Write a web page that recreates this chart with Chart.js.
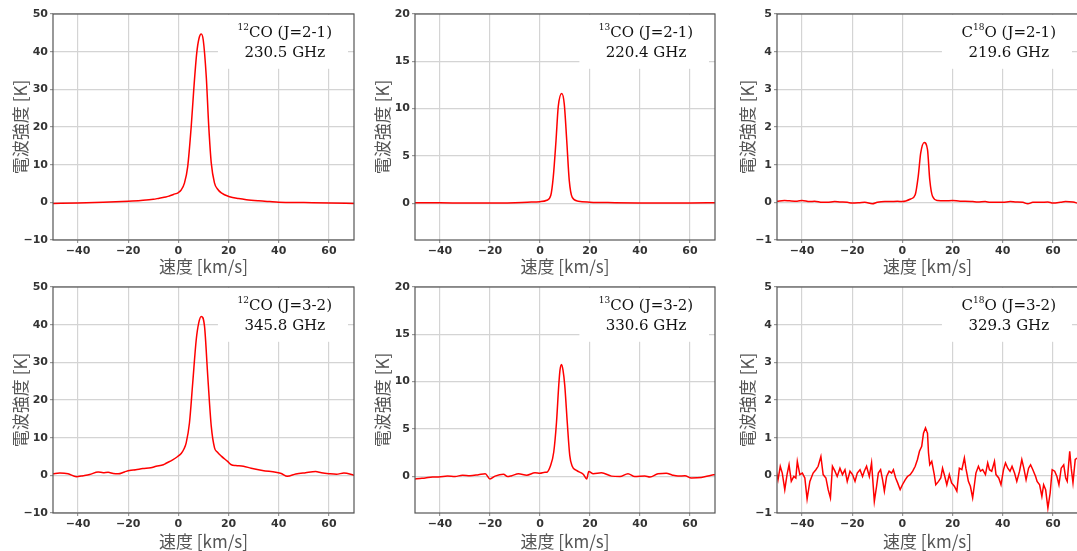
<!DOCTYPE html>
<html>
<head>
<meta charset="utf-8">
<title>CO spectra</title>
<style>
  html, body { margin: 0; padding: 0; background: #fff; width: 1077px; height: 551px; overflow: hidden; }
  .cell { position: absolute; }
</style>
</head>
<body>
<div class="cell" style="left:0px;top:0px"><canvas id="c1" width="356" height="280"></canvas></div>
<div class="cell" style="left:360px;top:0px"><canvas id="c2" width="357" height="280"></canvas></div>
<div class="cell" style="left:720px;top:0px"><canvas id="c3" width="360" height="280"></canvas></div>
<div class="cell" style="left:0px;top:273px"><canvas id="c4" width="356" height="280"></canvas></div>
<div class="cell" style="left:360px;top:273px"><canvas id="c5" width="357" height="280"></canvas></div>
<div class="cell" style="left:720px;top:273px"><canvas id="c6" width="360" height="280"></canvas></div>

<script src="https://cdn.jsdelivr.net/npm/chart.js@4.4.1/dist/chart.umd.min.js"></script>
<script>
// velocity axis ticks (km/s)
const xTicks = [-40, -20, 0, 20, 40, 60];
const yTicks12 = [-10, 0, 10, 20, 30, 40, 50];
const yTicks13 = [0, 5, 10, 15, 20];
const yTicks18 = [-1, 0, 1, 2, 3, 4, 5];

// 12CO (J=2-1)
const co12_21_v = [-50, -40, -30, -20, -15, -10, -7.6, -5, -3.6, -2, 0, 1, 2.4, 3.7, 5.1, 6.1, 7.3, 8.2, 9.1, 9.9, 11.1, 12.1, 13.1, 14.4, 15.5, 17.1, 20.4, 24, 27.1, 32, 36.4, 40, 50, 60, 70];
const co12_21_T = [-0.3, -0.2, 0, 0.3, 0.5, 0.8, 1.1, 1.4, 1.7, 2.1, 2.6, 3.2, 5.1, 9.5, 20.1, 29.8, 39.6, 43.5, 44.7, 43.1, 33.4, 20.1, 10.4, 5.1, 3.6, 2.5, 1.5, 1.0, 0.7, 0.4, 0.2, 0.05, -0.05, -0.15, -0.3];

// 13CO (J=2-1)
const co13_21_v = [-50, -40, -30, -20, -10, -5, 0, 2.7, 4.3, 5.3, 6.4, 7.3, 8.7, 9.7, 10.7, 11.7, 12.9, 15.3, 20, 30, 40, 50, 60, 70];
const co13_21_T = [0.05, 0.03, 0.02, 0.0, 0.05, 0.1, 0.15, 0.3, 0.8, 2.75, 6.6, 10.2, 11.6, 10.5, 6.6, 2.4, 0.6, 0.2, 0.1, 0.05, 0.02, 0.0, 0.02, 0.05];

// C18O (J=2-1)
const c18o_21_v = [-50, -47, -45, -42, -40, -37, -35, -32, -30, -27, -25, -22, -20, -17, -15, -12, -10, -7, -5, -2, 0, 3.3, 5.1, 6.3, 7.3, 8.7, 10, 10.9, 12, 14, 17, 20, 23, 25, 28, 30, 33, 35, 38, 40, 43, 45, 48, 50, 52, 55, 58, 60, 63, 65, 68, 70];
const c18o_21_T = [0.03, 0.05, 0.04, 0.03, 0.05, 0.02, 0.03, 0.0, 0.0, 0.02, 0.01, 0.0, -0.02, -0.01, 0.0, -0.04, 0.0, 0.02, 0.02, 0.03, 0.02, 0.09, 0.2, 0.69, 1.31, 1.59, 1.4, 0.6, 0.16, 0.05, 0.04, 0.05, 0.03, 0.03, 0.02, 0.01, 0.02, 0.0, 0.0, 0.0, 0.02, 0.01, 0.0, -0.04, 0.0, 0.0, 0.01, -0.02, 0.0, 0.02, 0.01, -0.03];

// 12CO (J=3-2)
const co12_32_v = [-50, -47.3, -44, -40.7, -38, -35.4, -32, -30, -28, -26, -24, -21.5, -19.5, -17, -14.2, -11, -8.9, -6, -4.9, -2.3, -0.3, 1.1, 2.2, 3.1, 4.4, 5.7, 7.1, 8.1, 9.1, 10.4, 11.7, 13.1, 14.4, 15.5, 17.1, 19.6, 21.1, 22.9, 25.9, 29, 33.5, 38.8, 41, 43.4, 46.8, 50.7, 54.7, 57, 60, 63, 66, 70];
const co12_32_T = [0.4, 0.6, 0.4, -0.35, -0.1, 0.2, 0.9, 0.7, 0.8, 0.5, 0.4, 0.9, 1.3, 1.5, 1.8, 2.0, 2.4, 2.8, 3.2, 4.1, 5.0, 5.8, 7.0, 8.6, 13.9, 24.5, 36, 40.5, 42.2, 39.6, 26.3, 13, 7.3, 6.2, 5.1, 3.7, 2.8, 2.6, 2.4, 1.9, 1.3, 0.8, 0.5, -0.26, 0.35, 0.7, 1.0, 0.7, 0.45, 0.3, 0.6, 0.05];

// 13CO (J=3-2)
const co13_32_v = [-50, -48, -45.9, -43, -40.6, -37, -34, -31, -28, -24.6, -21.9, -20, -18, -14.6, -13, -11.3, -8.6, -5.3, -2, 0, 2, 2.6, 4.2, 5.5, 6.6, 7.5, 8.0, 8.6, 9.2, 9.9, 10.9, 11.9, 12.8, 14.6, 17.3, 18.7, 19.5, 21.3, 24.6, 28.6, 32, 35.2, 37.9, 41.9, 44, 47.2, 50.5, 53, 55.2, 58, 60.5, 64.5, 68.5, 70];
const co13_32_T = [-0.3, -0.25, -0.2, -0.1, -0.1, 0.0, -0.05, 0.1, 0.05, 0.15, 0.25, -0.3, 0.0, 0.2, -0.05, 0.05, 0.25, 0.1, 0.35, 0.3, 0.4, 0.4, 1.1, 2.55, 5.7, 9.6, 11.2, 11.8, 11.2, 9.6, 5.7, 2.2, 1.1, 0.6, 0.2, -0.3, 0.5, 0.25, 0.35, 0.0, -0.05, 0.25, -0.05, 0.0, -0.1, 0.25, 0.3, 0.1, 0.0, 0.05, -0.2, -0.15, 0.1, 0.15];

// C18O (J=3-2)
const c18o_32_v = [-50.3, -49.6, -48.7, -47.9, -46.9, -46.0, -45.2, -44.3, -43.3, -42.5, -41.9, -40.9, -39.9, -38.9, -38.0, -36.9, -35.6, -34.5, -33.6, -32.5, -31.6, -30.5, -29.6, -28.7, -27.9, -26.9, -26.0, -24.9, -23.9, -22.9, -22.0, -20.9, -19.9, -18.9, -18.0, -16.9, -15.9, -15.2, -14.3, -13.2, -12.3, -11.2, -10.3, -9.6, -8.7, -7.9, -7.2, -6.3, -5.3, -4.3, -3.6, -2.7, -1.9, -0.9, 0.0, 1.1, 2.0, 3.1, 4.1, 5.1, 6.0, 6.8, 7.7, 8.4, 9.2, 9.7, 10.0, 10.4, 10.9, 11.7, 12.7, 13.3, 14.4, 15.3, 16.0, 16.9, 17.7, 18.7, 19.6, 20.7, 21.7, 22.7, 23.7, 24.7, 25.3, 26.3, 27.1, 28.0, 28.7, 29.3, 30.3, 31.1, 32.0, 33.1, 34.0, 34.7, 35.6, 36.7, 37.3, 38.4, 39.3, 40.3, 41.1, 42.0, 42.9, 43.7, 44.7, 45.6, 46.7, 47.6, 48.4, 49.3, 50.3, 51.1, 52.0, 53.1, 53.7, 54.7, 55.6, 56.3, 57.1, 58.0, 58.9, 59.7, 60.7, 61.6, 62.4, 63.3, 64.3, 65.1, 65.7, 66.7, 67.3, 68.0, 68.9, 69.7];
const c18o_32_T = [0.11, -0.12, 0.24, 0.06, -0.38, 0.02, 0.28, -0.16, -0.03, -0.07, 0.37, 0.02, 0.06, -0.07, -0.63, -0.16, 0.06, 0.15, 0.24, 0.5, 0.02, -0.07, -0.38, -0.6, 0.24, 0.11, -0.03, 0.19, 0.02, 0.15, -0.16, 0.11, 0.02, -0.16, 0.06, 0.15, -0.03, 0.11, 0.24, -0.03, 0.33, -0.69, -0.29, 0.06, 0.15, -0.12, -0.42, -0.03, 0.11, 0.06, 0.15, -0.07, -0.2, -0.38, -0.25, -0.12, -0.03, 0.02, 0.11, 0.24, 0.42, 0.64, 0.77, 1.12, 1.26, 1.17, 1.12, 0.6, 0.28, 0.37, 0.02, -0.25, -0.16, -0.07, 0.19, -0.03, -0.25, 0.02, -0.2, -0.29, -0.42, 0.19, 0.15, 0.46, 0.19, -0.16, -0.29, -0.6, -0.25, 0.06, 0.24, 0.11, 0.15, 0.02, 0.33, 0.15, 0.11, 0.37, 0.02, -0.07, -0.25, 0.15, 0.33, 0.19, 0.11, 0.24, 0.06, -0.16, 0.11, 0.42, 0.19, -0.12, 0.19, 0.28, 0.15, -0.03, -0.16, -0.25, -0.56, -0.25, -0.38, -0.87, -0.47, 0.15, 0.11, -0.03, -0.25, 0.19, 0.28, -0.07, -0.16, 0.64, 0.19, -0.2, 0.42, 0.46];

const LINE_RED = '#ff0000';
const GRID = '#d4d4d4';
const fmt = v => (v < 0 ? '\u2212' + Math.abs(v) : String(v));

// white label box with the line name and frequency, plus the axes frame
const panelDecor = {
  id: 'panelDecor',
  beforeDatasetsDraw(chart, args, opts) {
    const a = chart.chartArea, ctx = chart.ctx;
    const w = a.right - a.left, h = a.bottom - a.top;
    ctx.save();
    ctx.fillStyle = '#fff';
    const bx = a.left + 0.548 * w;
    ctx.fillRect(bx, a.top + 1, a.right - 6 - bx, 0.238 * h);

    const cx = a.left + 0.77 * w;
    ctx.fillStyle = '#111';
    ctx.textBaseline = 'middle';
    const big = '15px "DejaVu Serif"', small = '9px "DejaVu Serif"';
    const parts = [[opts.pre, big, 0], [opts.iso, small, -5], [opts.mol + ' ' + opts.trans, big, 0]];
    let total = 0;
    parts.forEach(p => { ctx.font = p[1]; total += ctx.measureText(p[0]).width; });
    let x = cx - total / 2;
    const y1 = a.top + 0.084 * h;
    ctx.textAlign = 'left';
    parts.forEach(p => {
      ctx.font = p[1];
      ctx.fillText(p[0], x, y1 + p[2]);
      x += ctx.measureText(p[0]).width;
    });
    ctx.font = big;
    ctx.textAlign = 'center';
    ctx.fillText(opts.freq, cx, a.top + 0.173 * h);
    ctx.restore();
  },
  afterDraw(chart) {
    const a = chart.chartArea, ctx = chart.ctx;
    ctx.save();
    ctx.strokeStyle = '#555';
    ctx.lineWidth = 1.2;
    ctx.strokeRect(a.left, a.top, a.right - a.left, a.bottom - a.top);
    ctx.restore();
  }
};

function makePanel(id, v, T, p) {
  const pts = v.map((x, i) => ({x: x, y: T[i]}));
  return new Chart(document.getElementById(id), {
    type: 'line',
    data: {
      datasets: [{
        data: pts,
        borderColor: LINE_RED,
        borderWidth: 1.5,
        pointRadius: 0,
        fill: false,
        cubicInterpolationMode: p.smooth ? 'monotone' : 'default',
        tension: 0
      }]
    },
    plugins: [panelDecor],
    options: {
      responsive: false,
      animation: false,
      devicePixelRatio: 1,
      layout: {padding: {top: 14, right: 2, left: 0, bottom: 0}},
      plugins: {
        legend: {display: false},
        tooltip: {enabled: false},
        panelDecor: p.label
      },
      scales: {
        x: {
          type: 'linear', min: -50, max: 70,
          afterBuildTicks: s => { s.ticks = xTicks.map(t => ({value: t})); },
          afterFit: s => { s.height = 40; },
          border: {display: false},
          grid: {color: GRID, lineWidth: 1.2, drawTicks: true, tickLength: 3, tickColor: '#999'},
          ticks: {
            autoSkip: false, maxRotation: 0, padding: 2, color: '#333',
            font: {family: 'DejaVu Sans', size: 11, weight: 'bold'},
            callback: fmt
          },
          title: {
            display: true, text: '速度 [km/s]', color: '#555',
            font: {family: '"Noto Sans CJK JP"', size: 17},
            padding: {top: 0, bottom: p.xTitlePad}
          }
        },
        y: {
          type: 'linear', min: p.ymin, max: p.ymax,
          afterBuildTicks: s => { s.ticks = p.yTicks.map(t => ({value: t})); },
          afterFit: s => { s.width = p.yw; },
          border: {display: false},
          grid: {color: GRID, lineWidth: 1.2, drawTicks: true, tickLength: 3, tickColor: '#999'},
          ticks: {
            autoSkip: false, padding: 2, color: '#333',
            font: {family: 'DejaVu Sans', size: 11, weight: 'bold'},
            callback: fmt
          },
          title: {
            display: true, text: '電波強度 [K]', color: '#555',
            font: {family: '"Noto Sans CJK JP"', size: 17},
            padding: {top: p.yTitlePad, bottom: 0}
          }
        }
      }
    }
  });
}

makePanel('c1', co12_21_v, co12_21_T, {smooth: true, ymin: -10, ymax: 50, yTicks: yTicks12, yw: 53, yTitlePad: 10, xTitlePad: 3,
  label: {pre: '', iso: '12', mol: 'CO', trans: '(J=2-1)', freq: '230.5 GHz'}});
makePanel('c2', co13_21_v, co13_21_T, {smooth: true, ymin: -3.9, ymax: 20, yTicks: yTicks13, yw: 55, yTitlePad: 12, xTitlePad: 3,
  label: {pre: '', iso: '13', mol: 'CO', trans: '(J=2-1)', freq: '220.4 GHz'}});
makePanel('c3', c18o_21_v, c18o_21_T, {smooth: true, ymin: -1, ymax: 5, yTicks: yTicks18, yw: 57, yTitlePad: 17, xTitlePad: 3,
  label: {pre: 'C', iso: '18', mol: 'O', trans: '(J=2-1)', freq: '219.6 GHz'}});
makePanel('c4', co12_32_v, co12_32_T, {smooth: true, ymin: -10, ymax: 50, yTicks: yTicks12, yw: 53, yTitlePad: 10, xTitlePad: 1,
  label: {pre: '', iso: '12', mol: 'CO', trans: '(J=3-2)', freq: '345.8 GHz'}});
makePanel('c5', co13_32_v, co13_32_T, {smooth: true, ymin: -3.9, ymax: 20, yTicks: yTicks13, yw: 55, yTitlePad: 12, xTitlePad: 1,
  label: {pre: '', iso: '13', mol: 'CO', trans: '(J=3-2)', freq: '330.6 GHz'}});
makePanel('c6', c18o_32_v, c18o_32_T, {smooth: false, ymin: -1, ymax: 5, yTicks: yTicks18, yw: 57, yTitlePad: 17, xTitlePad: 1,
  label: {pre: 'C', iso: '18', mol: 'O', trans: '(J=3-2)', freq: '329.3 GHz'}});
</script>
</body>
</html>
